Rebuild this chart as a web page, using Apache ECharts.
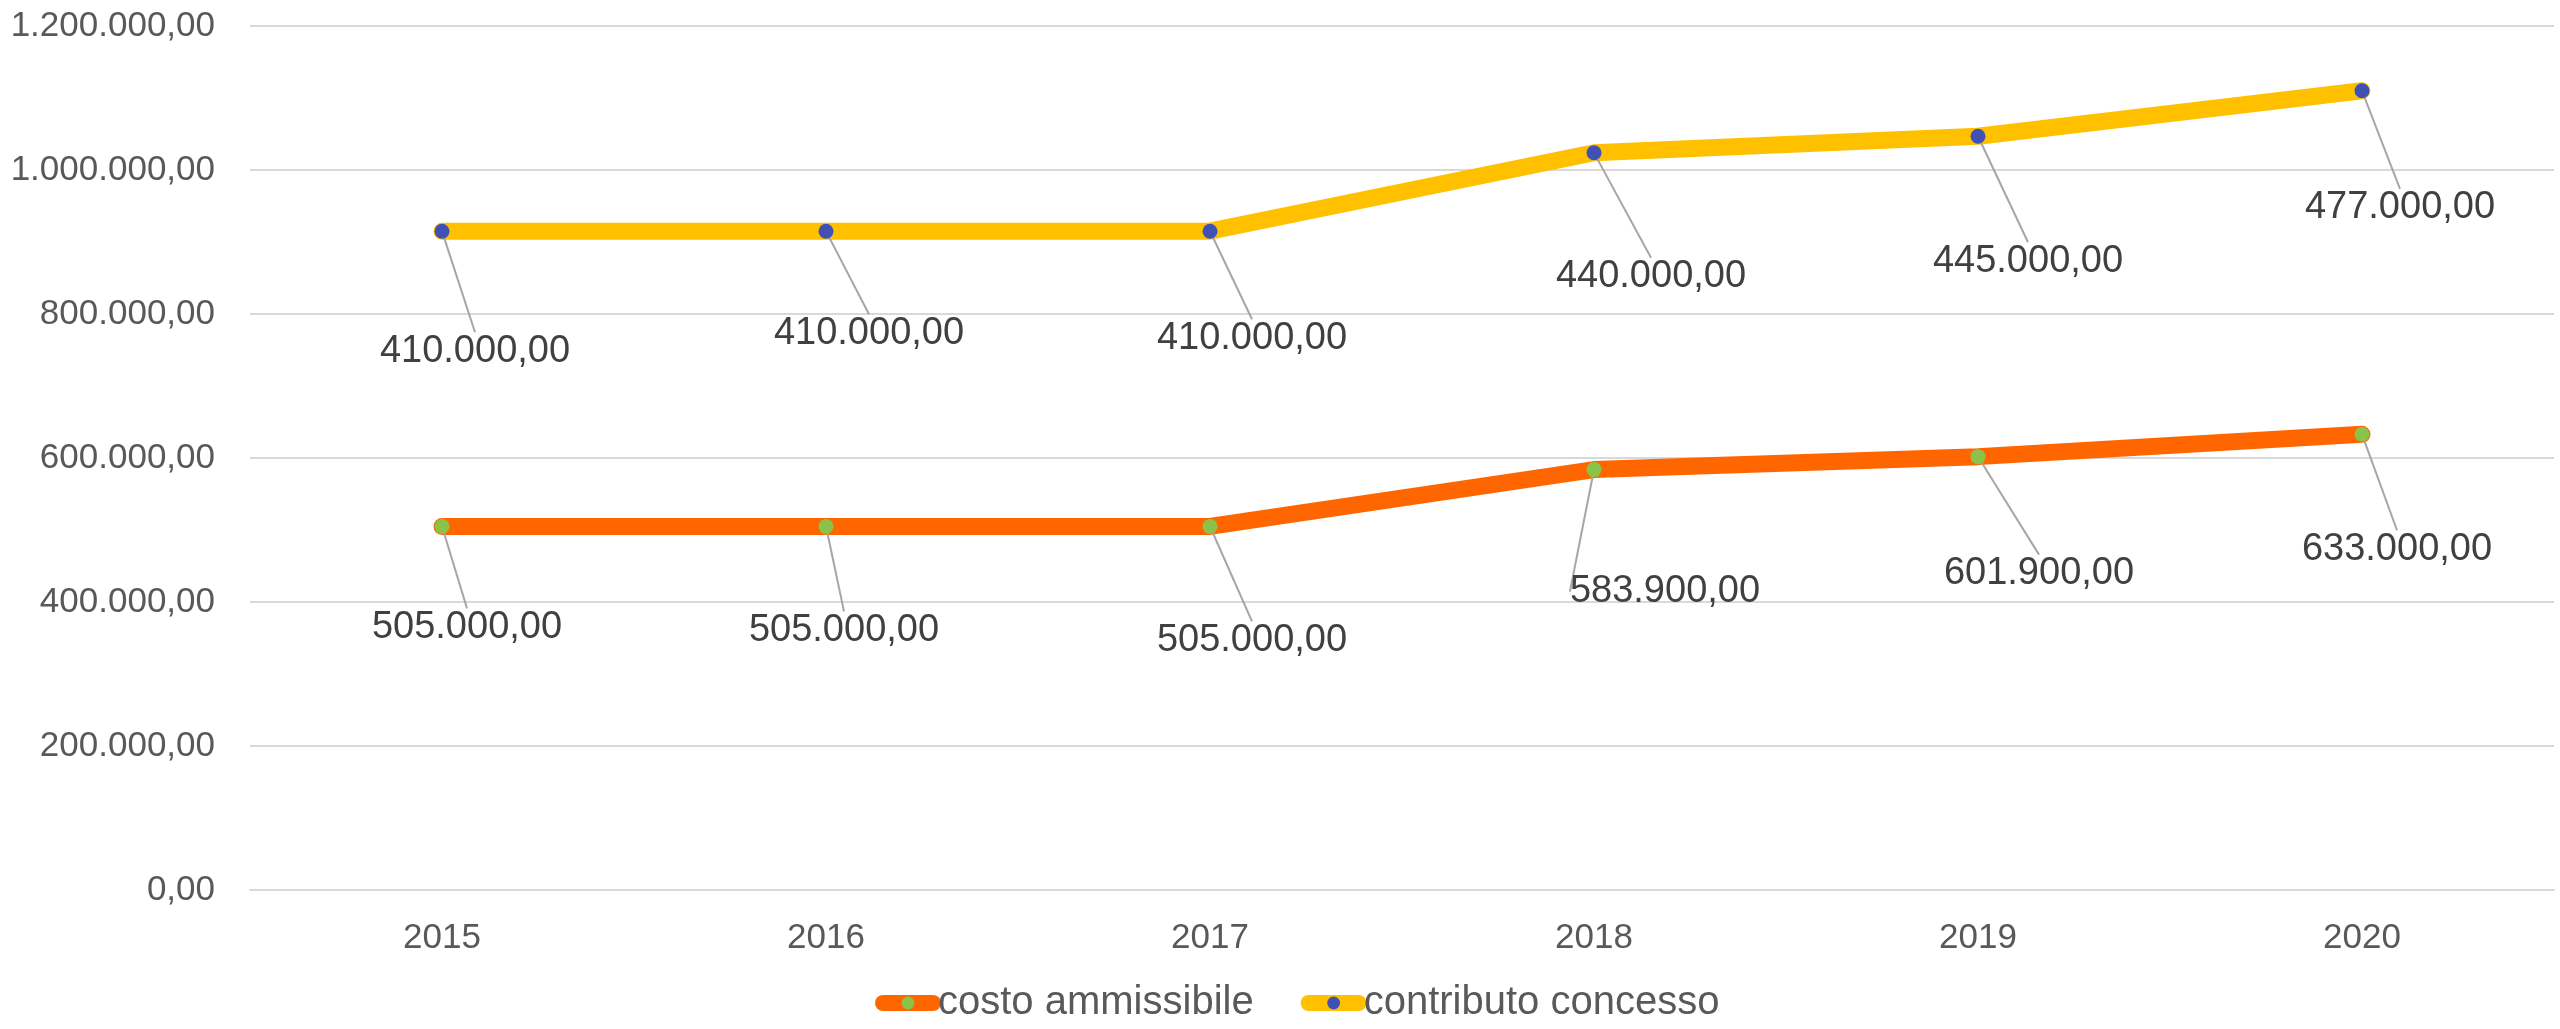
<!DOCTYPE html>
<html>
<head>
<meta charset="utf-8">
<script src="https://cdn.jsdelivr.net/npm/echarts@6/dist/echarts.min.js"></script>
<style>
html,body{margin:0;padding:0;background:#fff;}
#chart{width:2560px;height:1029px;}
</style>
</head>
<body>
<div id="chart"></div>
<script>
const categories = ['2015', '2016', '2017', '2018', '2019', '2020'];
const costoAmmissibile = [505000, 505000, 505000, 583900, 601900, 633000];
const contributoConcesso = [410000, 410000, 410000, 440000, 445000, 477000];
const yTicks = { min: 0, max: 1200000, interval: 200000 };

// label offsets (pixels) relative to each point
const costoDx = [25, 18, 42, 71, 61, 35];
const costoDy = [101, 104, 114, 122, 117, 115];
const contribDx = [33, 43, 42, 57, 50, 38];
const contribDy = [120, 102, 107, 124, 125, 117];

function fmtIt(v) {
  const parts = Number(v).toFixed(2).split('.');
  parts[0] = parts[0].replace(/\B(?=(\d{3})+(?!\d))/g, '.');
  return parts[0] + ',' + parts[1];
}

const FONT = '"Liberation Sans", Arial, sans-serif';
const chart = echarts.init(document.getElementById('chart'));
chart.setOption({
  animation: false,
  backgroundColor: '#ffffff',
  grid: { left: 250, right: 6, top: 26, bottom: 139, containLabel: false },
  legend: {
    bottom: 1,
    left: 870,
    itemWidth: 50,
    itemHeight: 16,
    itemGap: 47,
    lineStyle: { width: 16, cap: 'round' },
    textStyle: { fontFamily: FONT, fontSize: 40, color: '#595959' },
    data: ['costo ammissibile', 'contributo concesso']
  },
  xAxis: {
    type: 'category',
    data: categories,
    boundaryGap: true,
    axisLine: { lineStyle: { color: '#D9D9D9', width: 2 } },
    axisTick: { show: false },
    axisLabel: { fontFamily: FONT, fontSize: 35, color: '#595959', margin: 31 }
  },
  yAxis: {
    type: 'value',
    min: yTicks.min, max: yTicks.max, interval: yTicks.interval,
    axisLine: { show: false },
    axisTick: { show: false },
    splitLine: { lineStyle: { color: '#D9D9D9', width: 2 } },
    axisLabel: { fontFamily: FONT, fontSize: 35, color: '#595959', margin: 35, formatter: fmtIt }
  },
  series: [
    {
      name: 'costo ammissibile',
      type: 'line',
      stack: 'tot',
      data: costoAmmissibile,
      symbol: 'circle',
      symbolSize: 15,
      lineStyle: { color: '#FF6600', width: 17, cap: 'round', join: 'round' },
      itemStyle: { color: '#8BC34A', borderWidth: 0 },
      label: {
        show: true, position: 'inside', formatter: p => fmtIt(p.value),
        fontFamily: FONT, fontSize: 38, color: '#404040'
      },
      labelLine: { show: true, lineStyle: { color: '#A6A6A6', width: 2 } },
      labelLayout: p => ({ dx: costoDx[p.dataIndex], dy: costoDy[p.dataIndex] }),
      z: 2
    },
    {
      name: 'contributo concesso',
      type: 'line',
      stack: 'tot',
      data: contributoConcesso,
      symbol: 'circle',
      symbolSize: 15,
      lineStyle: { color: '#FFC000', width: 17, cap: 'round', join: 'round' },
      itemStyle: { color: '#3F51B5', borderWidth: 0 },
      label: {
        show: true, position: 'inside', formatter: p => fmtIt(p.value),
        fontFamily: FONT, fontSize: 38, color: '#404040'
      },
      labelLine: { show: true, lineStyle: { color: '#A6A6A6', width: 2 } },
      labelLayout: p => ({ dx: contribDx[p.dataIndex], dy: contribDy[p.dataIndex] }),
      z: 3
    }
  ]
});
</script>
</body>
</html>
